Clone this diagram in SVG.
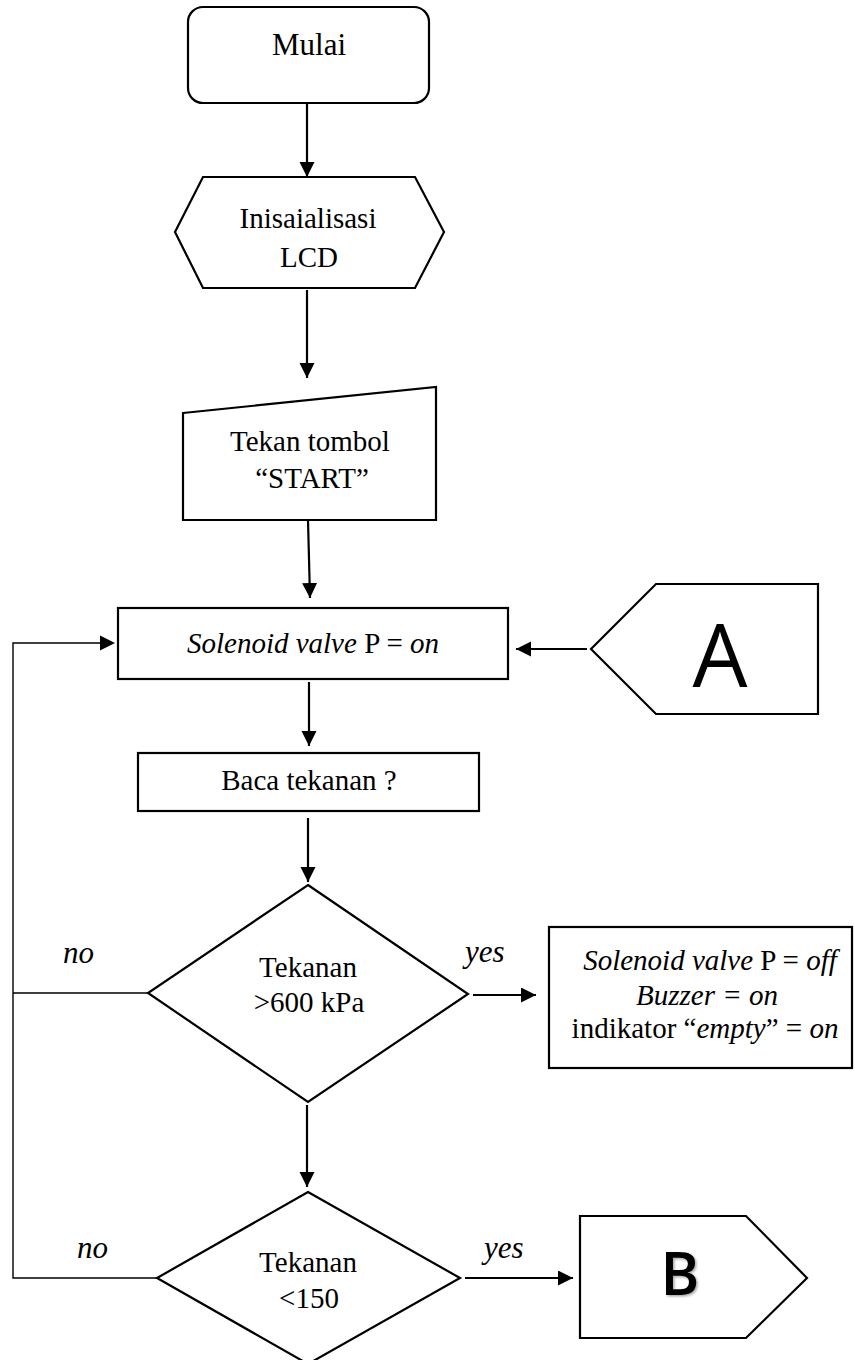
<svg xmlns="http://www.w3.org/2000/svg" width="855" height="1360" viewBox="0 0 855 1360">
<defs>
<style>
.shape{fill:#fff;stroke:#000;stroke-width:2.2}
.t{font-family:"Liberation Serif","Times New Roman",serif;font-size:29px;fill:#000;text-anchor:middle}
.lbl{font-family:"Liberation Serif","Times New Roman",serif;font-size:31px;font-style:italic;fill:#000}
.conn{fill:none;stroke:#000;stroke-width:2.2}
.loop{fill:none;stroke:#000;stroke-width:1.4}
.big{font-family:"Open Sans","Liberation Sans",sans-serif;fill:#000;text-anchor:middle}
</style>
<marker id="arr" markerUnits="userSpaceOnUse" markerWidth="16" markerHeight="16" refX="15" refY="7.5" orient="auto">
<path d="M0,0 L15,7.5 L0,15 z" fill="#000"/>
</marker>
<filter id="sh" x="-20%" y="-20%" width="150%" height="150%">
<feDropShadow dx="1.5" dy="1.5" stdDeviation="1" flood-color="#000" flood-opacity="0.35"/>
</filter>
</defs>
<rect width="855" height="1360" fill="#fff"/>

<g id="connectors">
<line class="conn" x1="307" y1="103" x2="307" y2="177" marker-end="url(#arr)"/>
<line class="conn" x1="307" y1="290" x2="307" y2="378" marker-end="url(#arr)"/>
<line class="conn" x1="308" y1="520" x2="310" y2="598" marker-end="url(#arr)"/>
<line class="conn" x1="587" y1="649" x2="516" y2="649" marker-end="url(#arr)"/>
<line class="conn" x1="309" y1="682" x2="309" y2="746" marker-end="url(#arr)"/>
<line class="conn" x1="308" y1="818" x2="308" y2="882" marker-end="url(#arr)"/>
<line class="conn" x1="473" y1="995" x2="536" y2="995" marker-end="url(#arr)"/>
<line class="conn" x1="307" y1="1105" x2="307" y2="1187" marker-end="url(#arr)"/>
<line class="conn" x1="465" y1="1278" x2="573" y2="1278" marker-end="url(#arr)"/>
<path class="loop" d="M157,1278 H13 V643 H100"/>
<path d="M100,635.5 L115,643 L100,650.5 z" fill="#000"/>
<path class="loop" d="M148,993 H13"/>
<text class="lbl" x="63" y="963">no</text>
<text class="lbl" x="77" y="1258">no</text>
<text class="lbl" x="465" y="962">yes</text>
<text class="lbl" x="484" y="1258">yes</text>
</g>

<g id="mulai">
<rect class="shape" x="188" y="7" width="241" height="96" rx="15"/>
<text class="t" x="309" y="55" style="font-size:31px">Mulai</text>
</g>

<g id="init-lcd">
<polygon class="shape" points="203,177 415,177 444,232 415,288 203,288 175,232"/>
<text class="t" x="308" y="228">Inisaialisasi</text>
<text class="t" x="309" y="267">LCD</text>
</g>

<g id="tekan-start">
<polygon class="shape" points="183,413 436,387 436,520 183,520"/>
<text class="t" x="310" y="451">Tekan tombol</text>
<text class="t" x="312" y="488">“START”</text>
</g>

<g id="solenoid-on">
<rect class="shape" x="118" y="608" width="390" height="71"/>
<text class="t" x="313" y="653"><tspan font-style="italic">Solenoid valve</tspan> P = <tspan font-style="italic">on</tspan></text>
</g>

<g id="conn-a">
<polygon class="shape" points="591,649 656,584 818,584 818,714 656,714"/>
<text class="big" x="720" y="687" style="font-size:87px">A</text>
</g>

<g id="baca">
<rect class="shape" x="138" y="753" width="341" height="58"/>
<text class="t" x="309" y="790">Baca tekanan ?</text>
</g>

<g id="cek-600">
<polygon class="shape" points="308,885 468,994 308,1102 148,993"/>
<text class="t" x="308" y="977">Tekanan</text>
<text class="t" x="309" y="1012">&gt;600 kPa</text>
</g>

<g id="off-box">
<rect class="shape" x="549" y="927" width="303" height="141"/>
<text class="t" x="710" y="970"><tspan font-style="italic">Solenoid valve</tspan> P = <tspan font-style="italic">off</tspan></text>
<text class="t" x="707" y="1005" font-style="italic">Buzzer = on</text>
<text class="t" x="705" y="1038">indikator “<tspan font-style="italic">empty</tspan>” = <tspan font-style="italic">on</tspan></text>
</g>

<g id="cek-150">
<polygon class="shape" points="308,1192 460,1278 308,1364 157,1278"/>
<text class="t" x="308" y="1272">Tekanan</text>
<text class="t" x="309" y="1308">&lt;150</text>
</g>

<g id="conn-b">
<polygon class="shape" points="580,1216 746,1216 807,1278 746,1338 580,1338"/>
<text class="big" x="680" y="1295" style="font-size:59px;font-weight:600" filter="url(#sh)">B</text>
</g>
</svg>
